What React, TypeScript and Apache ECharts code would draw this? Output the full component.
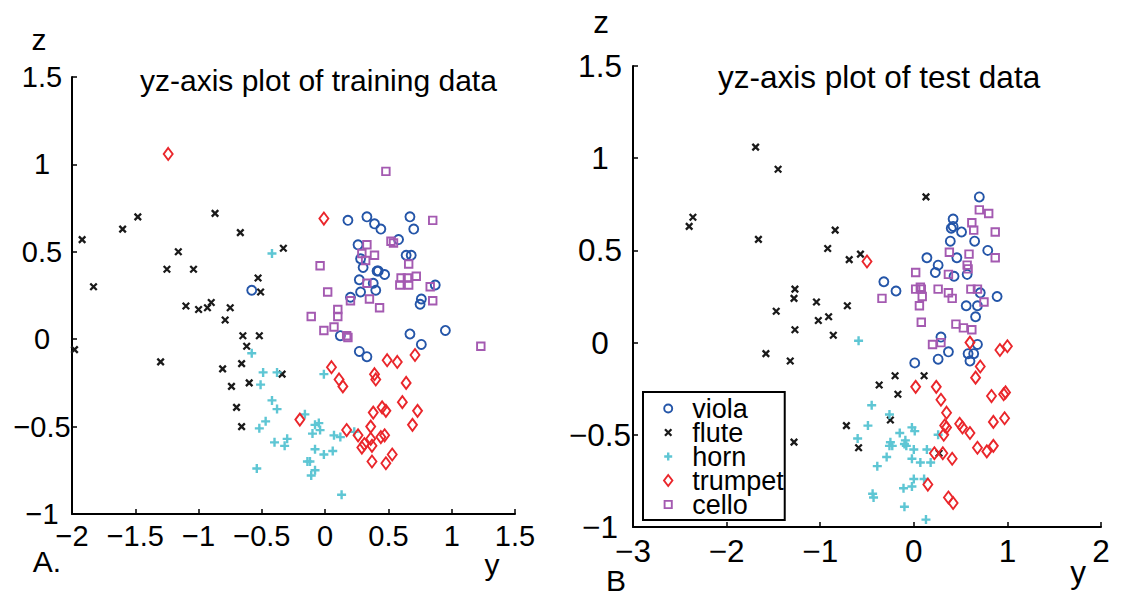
import React, { useEffect, useRef } from "react";
import * as echarts from "echarts";

// ---- data: [y, z] pairs per instrument -----------------------------------
const trainViola: number[][] = [
  [-0.58, 0.28], [0.18, 0.68], [0.33, 0.7], [0.39, 0.66], [0.44, 0.63], [0.26, 0.54],
  [0.28, 0.46], [0.3, 0.41], [0.41, 0.39], [0.42, 0.39], [0.47, 0.37], [0.27, 0.34],
  [0.38, 0.32], [0.4, 0.28], [0.28, 0.27], [0.2, 0.24], [0.58, 0.57], [0.67, 0.7],
  [0.7, 0.63], [0.64, 0.48], [0.68, 0.48], [0.87, 0.31], [0.76, 0.23], [0.75, 0.2],
  [0.95, 0.05], [0.12, 0.02], [0.67, 0.03], [0.76, -0.03], [0.27, -0.07], [0.33, -0.1],
];
const trainFlute: number[][] = [
  [-1.98, -0.06], [-1.92, 0.57], [-1.83, 0.3], [-1.6, 0.63], [-1.48, 0.7], [-1.3, -0.13],
  [-1.25, 0.4], [-1.16, 0.5], [-1.1, 0.19], [-1.04, 0.4], [-1.0, 0.17], [-0.93, 0.18],
  [-0.9, 0.21], [-0.87, 0.72], [-0.81, -0.17], [-0.79, 0.11], [-0.75, 0.18], [-0.74, -0.27],
  [-0.7, -0.39], [-0.67, 0.61], [-0.66, -0.14], [-0.66, -0.5], [-0.65, 0.02], [-0.62, -0.04],
  [-0.6, -0.25], [-0.53, 0.35], [-0.52, 0.02], [-0.51, 0.27], [-0.34, -0.2], [-0.33, 0.52],
];
const trainHorn: number[][] = [
  [-0.42, 0.49], [-0.58, -0.08], [-0.49, -0.19], [-0.38, -0.19], [-0.51, -0.26], [-0.42, -0.35],
  [-0.38, -0.4], [-0.47, -0.47], [-0.52, -0.51], [-0.4, -0.59], [-0.32, -0.61], [-0.3, -0.57],
  [-0.54, -0.74], [-0.16, -0.43], [-0.08, -0.49], [-0.05, -0.48], [-0.1, -0.54], [-0.04, -0.52],
  [-0.01, -0.2], [-0.08, -0.63], [-0.14, -0.7], [-0.12, -0.7], [-0.08, -0.75], [-0.11, -0.78],
  [-0.01, -0.66], [0.06, -0.64], [0.07, -0.55], [0.12, -0.56], [0.23, -0.53], [0.13, -0.89],
];
const trainTrumpet: number[][] = [
  [-1.24, 1.06], [-0.01, 0.69], [-0.2, -0.46], [0.05, -0.16], [0.11, -0.23], [0.14, -0.27],
  [0.17, -0.52], [0.26, -0.55], [0.29, -0.62], [0.31, -0.6], [0.36, -0.5], [0.36, -0.57],
  [0.37, -0.61], [0.37, -0.7], [0.38, -0.42], [0.39, -0.2], [0.4, -0.23], [0.45, -0.39],
  [0.48, -0.41], [0.44, -0.56], [0.47, -0.55], [0.48, -0.71], [0.53, -0.66], [0.49, -0.12],
  [0.57, -0.13], [0.61, -0.36], [0.64, -0.25], [0.69, -0.49], [0.71, -0.09], [0.73, -0.41],
];
const trainCello: number[][] = [
  [0.48, 0.96], [0.85, 0.68], [0.52, 0.56], [0.54, 0.55], [0.33, 0.54], [0.29, 0.49],
  [0.39, 0.48], [0.32, 0.45], [0.66, 0.43], [-0.04, 0.42], [0.72, 0.36], [0.6, 0.35],
  [0.65, 0.35], [0.33, 0.32], [0.59, 0.31], [0.66, 0.31], [0.83, 0.3], [0.02, 0.27],
  [0.2, 0.22], [0.35, 0.23], [0.85, 0.22], [0.43, 0.18], [0.1, 0.17], [-0.11, 0.13],
  [0.1, 0.13], [0.07, 0.07], [-0.01, 0.05], [0.17, 0.02], [0.18, 0.01], [1.23, -0.04],
];

const testViola: number[][] = [
  [0.7, 0.79], [0.42, 0.67], [0.4, 0.62], [0.42, 0.63], [0.51, 0.6], [0.39, 0.55],
  [0.65, 0.55], [0.79, 0.5], [0.14, 0.46], [0.46, 0.46], [0.26, 0.42], [0.23, 0.38],
  [0.43, 0.36], [0.57, 0.37], [-0.32, 0.33], [-0.19, 0.28], [0.71, 0.27], [0.89, 0.25],
  [0.56, 0.2], [0.68, 0.2], [0.66, 0.14], [0.29, 0.03], [0.68, -0.01], [0.37, -0.05],
  [0.26, -0.09], [0.01, -0.11], [0.58, -0.06], [0.64, -0.06], [0.6, -0.1],
];
const testFlute: number[][] = [
  [-1.69, 1.06], [-1.45, 0.94], [-2.36, 0.68], [-2.4, 0.63], [-1.66, 0.56], [-0.84, 0.61],
  [-0.92, 0.51], [-0.69, 0.45], [-0.57, 0.48], [-1.27, 0.29], [-1.28, 0.24], [-1.47, 0.17],
  [-1.04, 0.22], [-0.71, 0.2], [-0.91, 0.14], [-1.02, 0.12], [-1.27, 0.07], [0.13, 0.79],
  [-0.86, 0.04], [-0.2, -0.18], [0.11, -0.18], [-1.58, -0.06], [-1.32, -0.1], [-0.37, -0.23],
  [-0.17, -0.28], [-0.25, -0.42], [-0.72, -0.45], [-1.28, -0.54], [-0.59, -0.57], [0.27, -0.6],
];
const testHorn: number[][] = [
  [-0.59, 0.01], [-0.45, -0.34], [-0.26, -0.39], [-0.49, -0.45], [-0.6, -0.52], [-0.15, -0.49],
  [-0.25, -0.54], [-0.23, -0.56], [-0.26, -0.56], [-0.09, -0.53], [-0.08, -0.56], [-0.1, -0.55],
  [-0.02, -0.46], [0.01, -0.48], [0.0, -0.58], [0.14, -0.58], [0.26, -0.5], [-0.29, -0.62],
  [-0.02, -0.63], [0.07, -0.65], [0.18, -0.65], [-0.39, -0.67], [0.0, -0.74], [0.11, -0.74],
  [-0.11, -0.79], [-0.02, -0.78], [-0.44, -0.82], [-0.43, -0.84], [-0.1, -0.89], [0.13, -0.96],
];
const testTrumpet: number[][] = [
  [0.6, 0.0], [0.92, -0.04], [1.0, -0.02], [0.71, -0.13], [0.66, -0.19], [0.02, -0.24],
  [0.24, -0.24], [0.29, -0.31], [0.35, -0.38], [0.83, -0.29], [0.96, -0.28], [0.98, -0.27],
  [0.33, -0.45], [0.35, -0.46], [0.32, -0.5], [0.49, -0.44], [0.52, -0.46], [0.6, -0.49],
  [0.85, -0.43], [0.97, -0.41], [0.68, -0.57], [0.78, -0.59], [0.85, -0.56], [0.22, -0.6],
  [0.31, -0.6], [0.41, -0.63], [0.15, -0.77], [0.37, -0.84], [0.42, -0.87], [-0.5, 0.44],
];
const testCello: number[][] = [
  [0.7, 0.72], [0.8, 0.7], [0.62, 0.65], [0.64, 0.61], [0.87, 0.6], [0.38, 0.49],
  [0.59, 0.48], [0.87, 0.46], [0.57, 0.42], [0.58, 0.4], [0.02, 0.38], [0.37, 0.37],
  [0.07, 0.3], [0.02, 0.29], [0.08, 0.29], [0.09, 0.25], [0.26, 0.29], [0.37, 0.27],
  [0.41, 0.24], [0.61, 0.29], [0.68, 0.29], [-0.34, 0.24], [0.75, 0.22], [0.06, 0.2],
  [0.08, 0.11], [0.45, 0.1], [0.53, 0.08], [0.62, 0.07], [0.2, -0.01], [0.29, 0.0],
];

const instruments = ["viola", "flute", "horn", "trumpet", "cello"];
const trainSets = [trainViola, trainFlute, trainHorn, trainTrumpet, trainCello];
const testSets = [testViola, testFlute, testHorn, testTrumpet, testCello];

const leftYTicks = { min: -2, max: 1.5, interval: 0.5 };
const rightYTicks = { min: -3, max: 2, interval: 1 };
const zTicks = { min: -1, max: 1.5, interval: 0.5 };

// ---- styling ---------------------------------------------------------------
const FONT = "'Liberation Sans', Arial, Helvetica, sans-serif";

const COLORS: Record<string, string> = {
  viola: "#2455a8",
  flute: "#1a1a1a",
  horn: "#5ec6d4",
  trumpet: "#ea262b",
  cello: "#a45ab1",
};

const CROSS = "path://M0,0L10,10M10,0L0,10";
const PLUS = "path://M5,0L5,10M0,5L10,5";

const MARKERS: Record<string, { symbol: string; size: number | number[]; width: number }> = {
  viola: { symbol: "circle", size: 9, width: 1.9 },
  flute: { symbol: CROSS, size: 6.5, width: 2.3 },
  horn: { symbol: PLUS, size: 9, width: 2.4 },
  trumpet: { symbol: "diamond", size: [9, 12], width: 1.9 },
  cello: { symbol: "rect", size: 7.5, width: 1.9 },
};

// legend icons: the zero-length segments at y = +-5.5 only fix the icon box height
const LEGEND_ICONS: Record<string, string> = {
  viola: "path://M0,-5.5L0,-5.5M0,5.5L0,5.5M-4,0A4,4,0,1,0,4,0A4,4,0,1,0,-4,0Z",
  flute: "path://M0,-5.5L0,-5.5M0,5.5L0,5.5M-3.2,-3.2L3.2,3.2M3.2,-3.2L-3.2,3.2",
  horn: "path://M0,-5.5L0,-5.5M0,5.5L0,5.5M0,-4L0,4M-4,0L4,0",
  trumpet: "path://M0,-5.5L4.2,0L0,5.5L-4.2,0Z",
  cello: "path://M0,-5.5L0,-5.5M0,5.5L0,5.5M-3.6,-3.6L3.6,-3.6L3.6,3.6L-3.6,3.6Z",
};

const fmt = (v: number) => (v < 0 ? "\u2212" : "") + String(Math.abs(v));

function xAxisFor(grid: number, ticks: { min: number; max: number; interval: number }, fs: number, margin: number) {
  return {
    gridIndex: grid,
    type: "value",
    ...ticks,
    axisLine: { show: true, onZero: false, lineStyle: { color: "#000", width: 2 } },
    axisTick: { show: true, inside: true, length: 5, lineStyle: { color: "#000", width: 1.5 } },
    axisLabel: { fontSize: fs, color: "#000", fontFamily: FONT, margin, formatter: fmt },
    splitLine: { show: false },
  };
}

function yAxisFor(grid: number, fs: number, margin: number) {
  return {
    gridIndex: grid,
    type: "value",
    ...zTicks,
    axisLine: { show: true, onZero: false, lineStyle: { color: "#000", width: 2 } },
    axisTick: { show: true, inside: true, length: 5, lineStyle: { color: "#000", width: 1.5 } },
    axisLabel: {
      fontSize: fs,
      color: "#000",
      fontFamily: FONT,
      margin,
      align: "center",
      padding: [0, 0, 10, 0],
      formatter: fmt,
    },
    splitLine: { show: false },
  };
}

function scatterSeries(sets: number[][][], axis: number) {
  return instruments.map((name, i) => {
    const m = MARKERS[name];
    return {
      type: "scatter",
      name,
      xAxisIndex: axis,
      yAxisIndex: axis,
      data: sets[i],
      symbol: m.symbol,
      symbolSize: m.size,
      itemStyle: { color: "transparent", borderColor: COLORS[name], borderWidth: m.width, opacity: 1 },
      emphasis: { disabled: true },
    };
  });
}

function label(text: string, x: number, y: number, fs: number) {
  return {
    type: "text",
    x,
    y,
    silent: true,
    style: {
      text,
      fill: "#000",
      font: `${fs}px ${FONT}`,
      align: "center",
      verticalAlign: "middle",
      textAlign: "center",
      textVerticalAlign: "middle",
    },
  };
}

export default function App() {
  const ref = useRef<HTMLDivElement>(null);

  useEffect(() => {
    if (!ref.current) return;
    const chart = echarts.init(ref.current, undefined, { renderer: "svg" });

    const option = {
      animation: false,
      backgroundColor: "#fff",
      textStyle: { fontFamily: FONT },
      title: [
        {
          text: "yz-axis plot of training data",
          left: 135,
          top: 60,
          textStyle: { fontSize: 30, fontWeight: "normal", color: "#000", fontFamily: FONT },
        },
        {
          text: "yz-axis plot of test data",
          left: 713,
          top: 56,
          textStyle: { fontSize: 31.5, fontWeight: "normal", color: "#000", fontFamily: FONT },
        },
      ],
      grid: [
        { left: 72, top: 77, width: 443, height: 437 },
        { left: 633, top: 66, width: 468, height: 461 },
      ],
      xAxis: [xAxisFor(0, leftYTicks, 29, 7), xAxisFor(1, rightYTicks, 31.5, 8)],
      yAxis: [yAxisFor(0, 29, 30), yAxisFor(1, 31.5, 33)],
      legend: {
        orient: "vertical",
        left: 643,
        top: 392,
        padding: [3, 1, 2, 20],
        itemGap: -3,
        itemWidth: 38,
        itemHeight: 11,
        backgroundColor: "#fff",
        borderColor: "#000",
        borderWidth: 2,
        borderRadius: 0,
        selectedMode: false,
        textStyle: { fontSize: 27, color: "#000", fontFamily: FONT },
        data: instruments.map((name) => ({
          name,
          icon: LEGEND_ICONS[name],
          itemStyle: {
            color: "transparent",
            borderColor: COLORS[name],
            borderWidth: MARKERS[name].width,
          },
        })),
      },
      graphic: [
        label("z", 39, 39, 30),
        label("y", 492, 564, 30),
        label("A.", 47, 561, 30),
        label("z", 601, 22, 31.5),
        label("y", 1078, 572, 31.5),
        label("B", 616, 580, 30),
      ],
      series: [...scatterSeries(trainSets, 0), ...scatterSeries(testSets, 1)],
    };

    chart.setOption(option as any);
    return () => chart.dispose();
  }, []);

  return (
    <div
      ref={ref}
      style={{ position: "absolute", left: 0, top: 0, width: 1121, height: 596 }}
    />
  );
}
